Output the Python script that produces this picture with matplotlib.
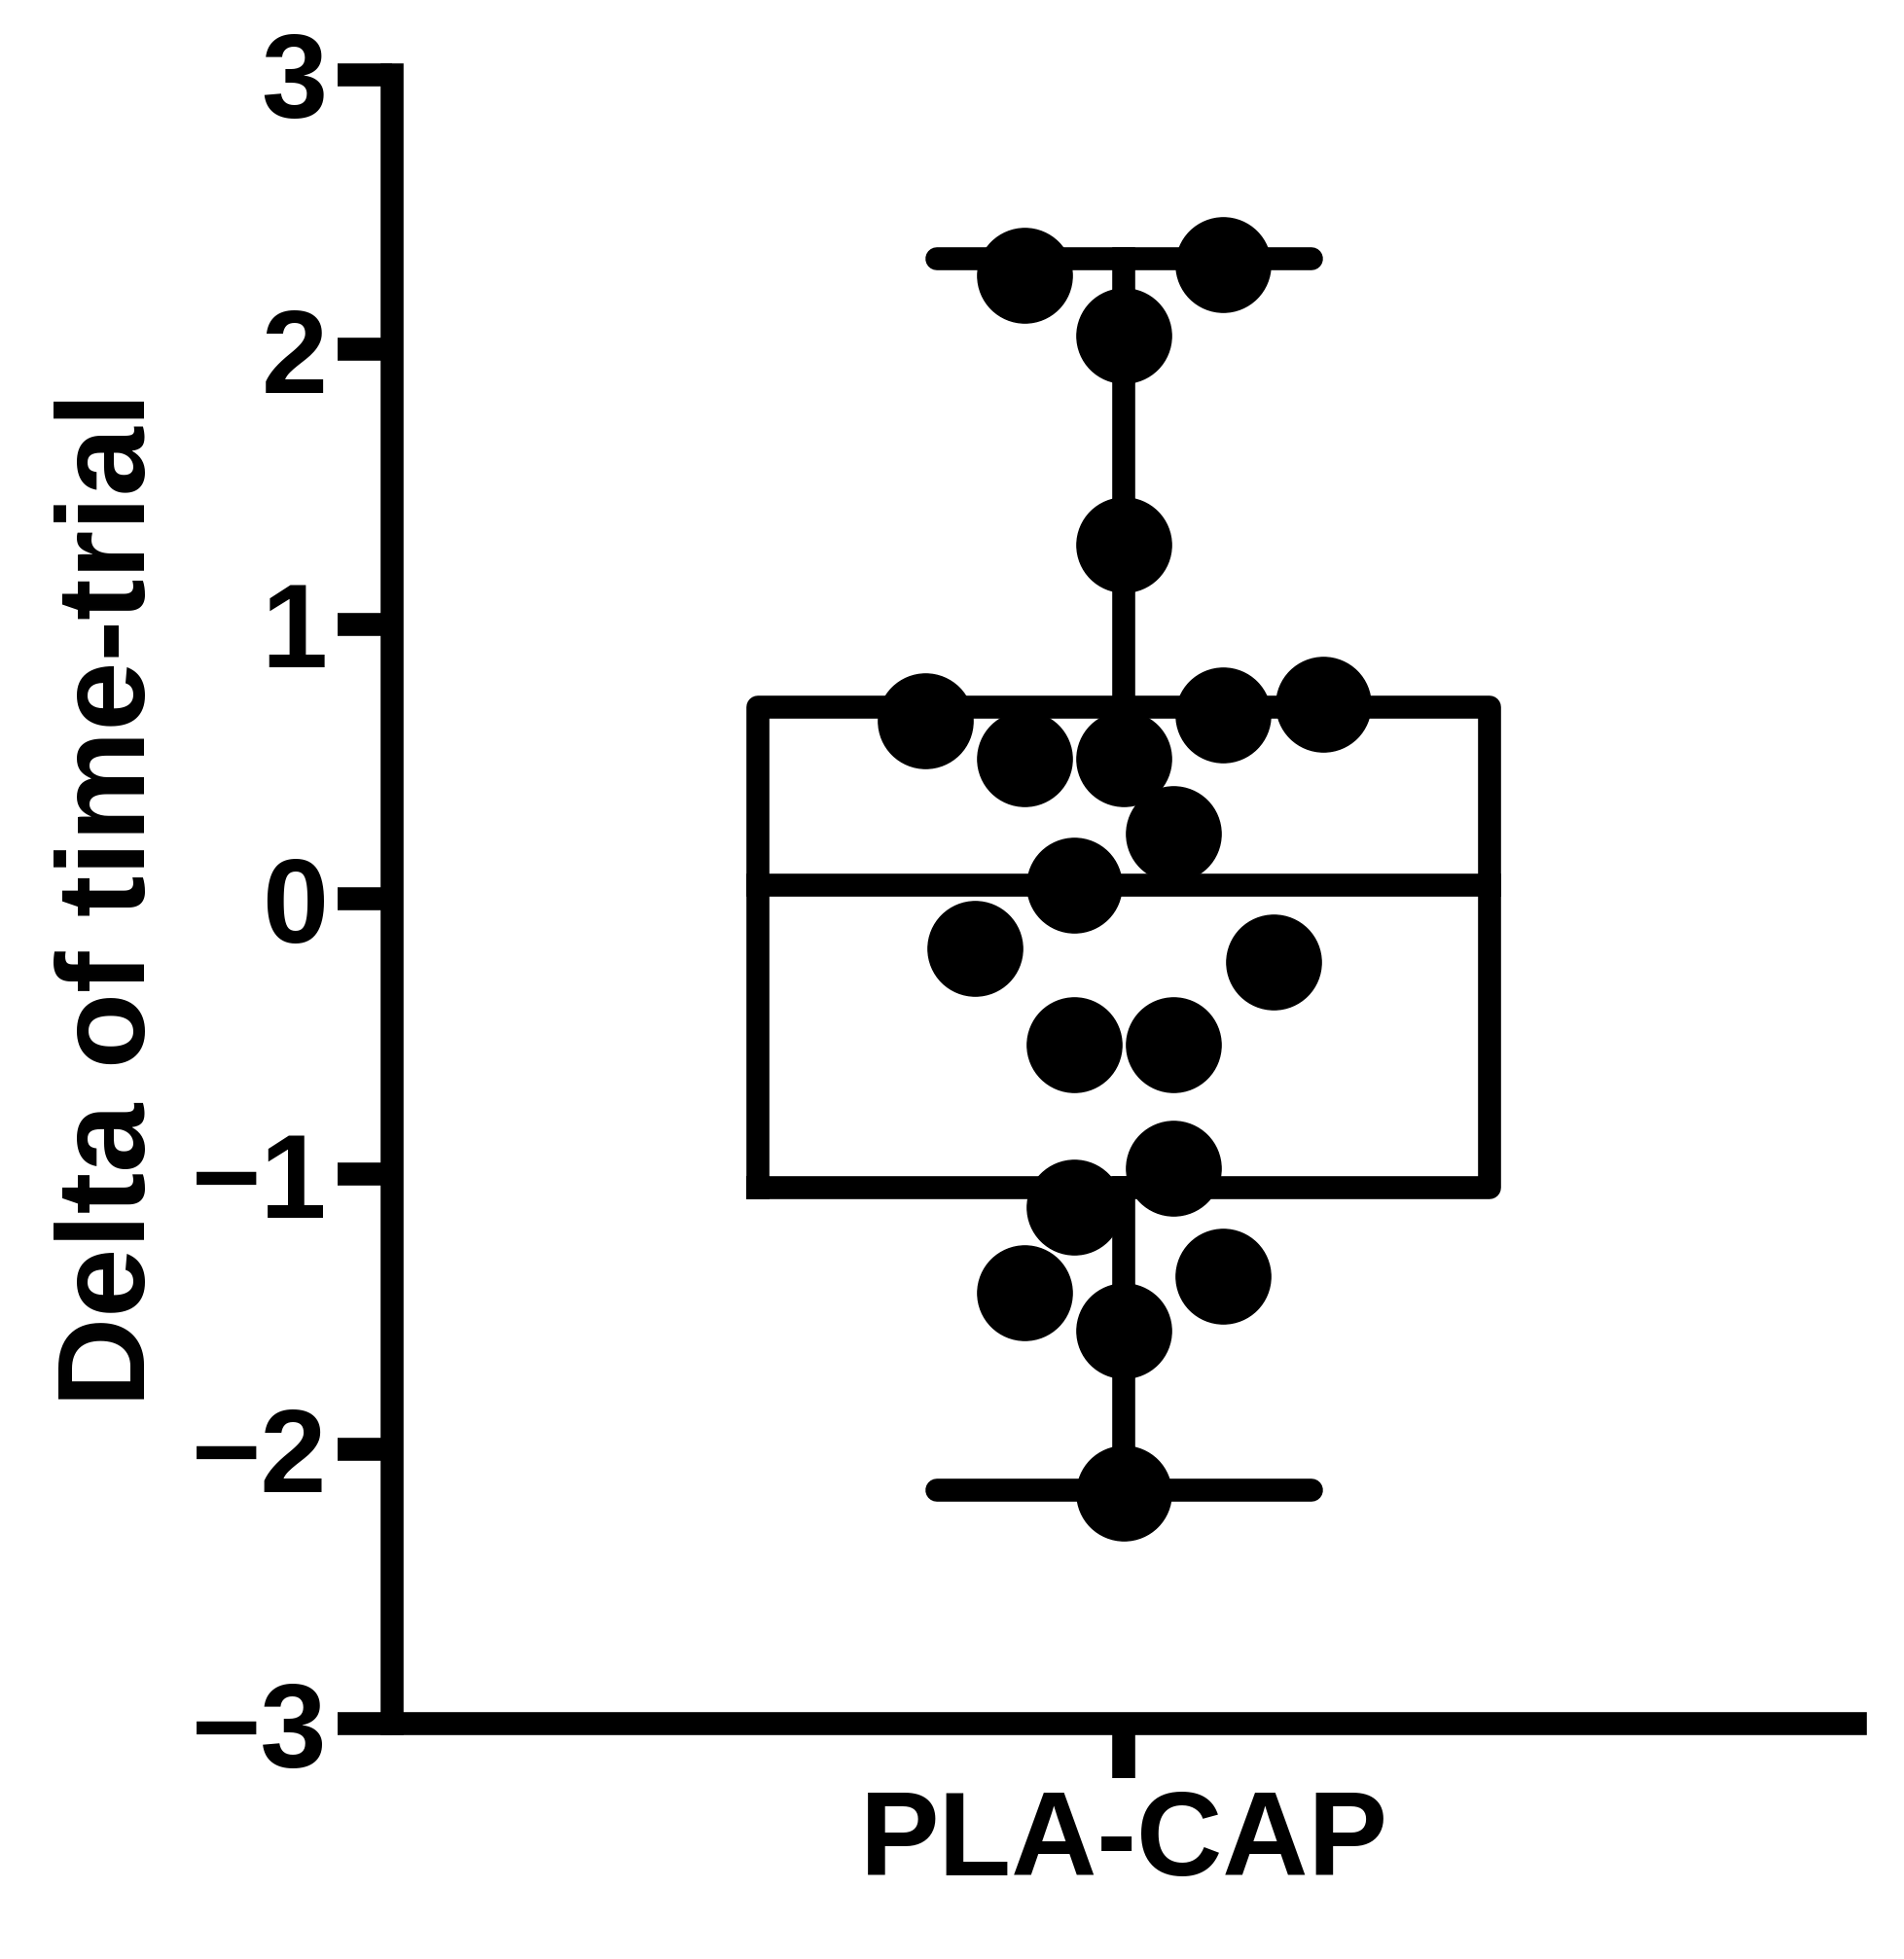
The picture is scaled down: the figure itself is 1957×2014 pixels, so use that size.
import numpy as np
import matplotlib; matplotlib.use("Agg")
import matplotlib.pyplot as plt

plt.rcParams.update({"font.family": "Liberation Sans", "font.weight": "bold"})

category = "PLA-CAP"
values = [2.27, 2.31, 2.05, 1.29, 0.65, 0.67, 0.71, 0.51, 0.51, 0.24, 0.05,
          -0.18, -0.23, -0.53, -0.53, -0.98, -1.12, -1.43, -1.37, -1.57, -2.16]
offsets = [-0.068, 0.068, 0.0, 0.0, -0.136, 0.068, 0.136, -0.068, 0.0, 0.034, -0.034,
           -0.102, 0.102, -0.034, 0.034, 0.034, -0.034, -0.068, 0.068, 0.0, 0.0]
q1, med, q3 = -1.05, 0.05, 0.70
wlo, whi = -2.15, 2.33
yticks = [-3, -2, -1, 0, 1, 2, 3]

fig = plt.figure(figsize=(19.58, 20.14), dpi=100)
ax = fig.add_axes([0.206, 0.12, 0.768, 0.842])
lw = 17
bw, cw = 0.25, 0.128
ax.plot([-bw, bw, bw, -bw, -bw], [q1, q1, q3, q3, q1], color="black", lw=lw, solid_joinstyle="round")
ax.plot([-bw, bw], [med, med], color="black", lw=lw)
ax.plot([0, 0], [q3, whi], color="black", lw=lw)
ax.plot([0, 0], [wlo, q1], color="black", lw=lw)
ax.plot([-cw, cw], [whi, whi], color="black", lw=lw, solid_capstyle="round")
ax.plot([-cw, cw], [wlo, wlo], color="black", lw=lw, solid_capstyle="round")
ax.plot(offsets, values, "o", color="black", ms=70, zorder=5)

ax.set_xlim(-0.5, 0.5)
ax.set_ylim(-3, 3)
ax.set_yticks(yticks)
ax.set_yticklabels([str(v).replace("-", "\u2212") for v in yticks], fontsize=88, fontweight="bold")
ax.set_xticks([0])
ax.set_xticklabels([category], fontsize=88, fontweight="bold")
ax.set_ylabel("Delta of time-trial", fontsize=92, fontweight="bold", labelpad=15)
for s in ["top", "right"]:
    ax.spines[s].set_visible(False)
for s in ["left", "bottom"]:
    ax.spines[s].set_linewidth(lw)
ax.tick_params(axis="both", width=lw, length=40, pad=8)
ax.patch.set_visible(False)
fig.savefig("out.png")
